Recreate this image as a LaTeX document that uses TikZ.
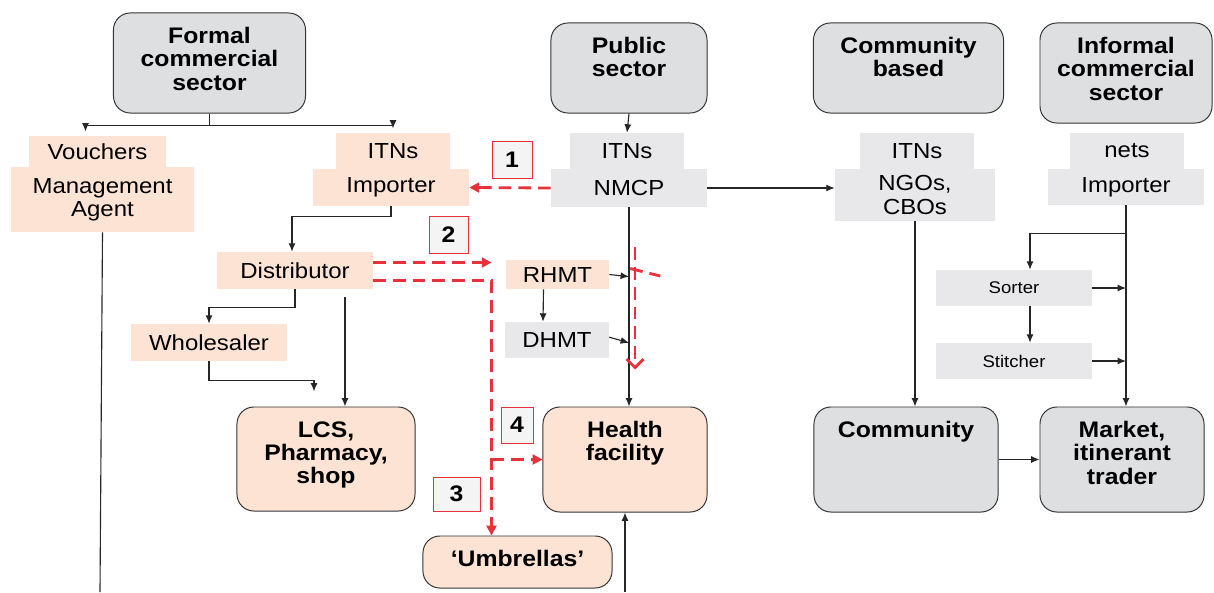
\documentclass[tikz,border=0pt]{standalone}
\usepackage{fontspec}
\setmainfont{Liberation Sans}[FakeStretch=1.1]
\usetikzlibrary{arrows.meta, positioning, calc}

\definecolor{hdgray}{HTML}{DEDFE1}
\definecolor{lblgray}{HTML}{E8E8EA}
\definecolor{peach}{HTML}{FDE3D3}
\definecolor{flowred}{HTML}{E8313A}

\newcommand\lblfont{\fontsize{15.5}{16.5}\selectfont}
\newcommand\headfont{\fontsize{16}{16.5}\selectfont\bfseries}
\newcommand\smallfont{\fontsize{12}{13}\selectfont}

\begin{document}
\begin{tikzpicture}[x=0.025cm, y=-0.025cm,
    sector/.style={draw=black!80, fill=hdgray, rounded corners=12pt, line width=0.7pt},
    outlet/.style={draw=black!80, fill=peach, rounded corners=12pt, line width=0.7pt},
    toptext/.style={label={[anchor=north, yshift=-7pt, font=\headfont, align=center]north:{#1}}},
    tagp/.style={fill=peach, inner sep=0pt, font=\lblfont, align=center},
    tagg/.style={fill=lblgray, inner sep=0pt, font=\lblfont, align=center},
    numbox/.style={draw=flowred, fill=gray!9, line width=0.6pt, inner sep=0pt, font=\headfont},
    flow/.style={-{Latex[length=6pt,width=5pt]}, line width=0.8pt, black!85},
    redflow/.style={-{Triangle[length=7pt,width=7pt]}, line width=2pt, flowred, dash pattern=on 9pt off 5pt},
]
    \useasboundingbox (0,0) rectangle (1214,592);

    % sectors
    \node[sector, minimum width=4.8cm, minimum height=2.5cm, toptext={Formal\\commercial\\sector}] (formal) at (209.5,63) {};
    \node[sector, minimum width=3.9cm, minimum height=2.25cm, toptext={Public\\sector}] (public) at (629,68) {};
    \node[sector, minimum width=4.75cm, minimum height=2.25cm, toptext={Community\\based}] (cbased) at (908.5,68) {};
    \node[sector, minimum width=4.3cm, minimum height=2.5cm, toptext={Informal\\commercial\\sector}] (informal) at (1126,73) {};

    % formal commercial channel
    \node[tagp, minimum width=3.425cm, minimum height=0.775cm] (vouchers) at (97.5,151.5) {Vouchers};
    \node[tagp, minimum width=4.575cm, minimum height=1.625cm] (agent) at (102.5,199.5) {Management\\Agent};
    \node[tagp, minimum width=2.85cm, minimum height=0.9cm] (itnsF) at (393,151) {ITNs};
    \node[tagp, minimum width=3.9cm, minimum height=0.925cm] (importF) at (391,187.5) {Importer};
    \node[tagp, minimum width=3.9cm, minimum height=0.925cm] (distrib) at (295,270.5) {Distributor};
    \node[tagp, minimum width=3.9cm, minimum height=0.925cm] (wholesale) at (209,342.5) {Wholesaler};
    \node[outlet, minimum width=4.45cm, minimum height=2.6cm, toptext={LCS,\\Pharmacy,\\shop}] (lcs) at (326,459) {};
    \node[outlet, minimum width=4.725cm, minimum height=1.3cm, toptext={‘Umbrellas’}] (umbrella) at (517.5,562) {};

    % public channel
    \node[tagg, minimum width=2.85cm, minimum height=0.9cm] (itnsP) at (627,151) {ITNs};
    \node[tagg, minimum width=3.9cm, minimum height=0.95cm] (nmcp) at (629,188) {NMCP};
    \node[tagp, minimum width=2.575cm, minimum height=0.725cm] (rhmt) at (557.5,274.5) {RHMT};
    \node[tagg, minimum width=2.6cm, minimum height=0.9cm] (dhmt) at (557,340) {DHMT};
    \node[outlet, minimum width=4.1cm, minimum height=2.625cm, toptext={Health\\facility}] (health) at (625,459.5) {};

    % community channel
    \node[tagg, minimum width=2.85cm, minimum height=0.9cm] (itnsC) at (917,151) {ITNs};
    \node[tagg, minimum width=4cm, minimum height=1.3cm] (ngos) at (915,195) {NGOs,\\CBOs};
    \node[sector, minimum width=4.6cm, minimum height=2.625cm, toptext={Community}] (community) at (906,459.5) {};

    % informal channel
    \node[tagg, minimum width=2.85cm, minimum height=0.9cm] (nets) at (1127,151) {nets};
    \node[tagg, minimum width=3.9cm, minimum height=0.9cm] (importI) at (1126,187) {Importer};
    \node[tagg, font=\smallfont, minimum width=3.9cm, minimum height=0.9cm] (sorter) at (1014,288) {Sorter};
    \node[tagg, font=\smallfont, minimum width=3.9cm, minimum height=0.9cm] (stitcher) at (1014,361) {Stitcher};
    \node[sector, minimum width=4.1cm, minimum height=2.625cm, toptext={Market,\\itinerant\\trader}] (market) at (1122,459.5) {};

    % black flows
    \draw[line width=0.8pt, black!85] (formal.south) -- ++(0,12) coordinate (fsplit);
    \draw[flow, shorten >=3pt] (fsplit) -| ([shift={(-12,0)}]vouchers.north);
    \draw[flow, shorten >=3pt] (fsplit) -| (itnsF.north);
    \draw[flow] (public.south) -- (itnsP.north);
    \draw[flow] (nmcp.east) -- (nmcp.east -| ngos.west);
    \draw[flow] (nmcp.south) -- (nmcp.south |- health.north);
    \draw[flow] (rhmt.east) -- ([yshift=-1.5pt]rhmt.east -| nmcp.south);
    \draw[flow] ([yshift=2pt]dhmt.east) -- ([yshift=-2pt]dhmt.east -| nmcp.south);
    \draw[flow] ([shift={(-14,0)}]rhmt.south) -- ([shift={(-14,0)}]dhmt.north);
    \draw[flow] (importF.south) -- ++(0,10) -| ([shift={(-3,0)}]distrib.north);
    \draw[flow] (distrib.south) -- ++(0,18) -| (wholesale.north);
    \draw[flow] (wholesale.south) -- ++(0,19) -| ([shift={(-12,-15)}]lcs.north);
    \coordinate (dleg) at ([shift={(50,8)}]distrib.south);
    \draw[flow] (dleg) -- (dleg |- lcs.north);
    \coordinate (vbottom) at (100,592);
    \draw[line width=0.8pt, black!85] (agent.south) -- (vbottom);
    \coordinate (hfin) at (625,592);
    \draw[flow] (hfin) -- (health.south);
    \draw[flow] (ngos.south) -- (ngos.south |- community.north);
    \draw[flow] (importI.south) -- (importI.south |- market.north);
    \draw[flow] ([shift={(0,28)}]importI.south) -| ([shift={(16,0)}]sorter.north);
    \draw[flow] ([shift={(16,0)}]sorter.south) -- ([shift={(16,0)}]stitcher.north);
    \draw[flow] (sorter.east) -- (sorter.east -| importI.south);
    \draw[flow] (stitcher.east) -- (stitcher.east -| importI.south);
    \draw[flow] (community.east) -- (market.west);

    % red flows
    \draw[redflow] (nmcp.west) -- (importF.east);
    \coordinate (dtop) at ([shift={(0,-8)}]distrib.east);
    \draw[redflow, shorten >=10pt] (dtop) -- (dtop -| rhmt.west);
    \coordinate (dlow) at ([shift={(0,10)}]distrib.east);
    \coordinate (ubr) at ([shift={(-26,0)}]umbrella.north);
    \draw[redflow] (dlow) -| (ubr);
    \draw[redflow] (ubr |- health.west) -- (health.west);
    \draw[redflow, -{Straight Barb[length=6pt,width=12pt]}] ([shift={(10,-159)}]health.north) -- ([shift={(10,-37)}]health.north);
    \draw[line width=2pt, flowred, dash pattern=on 9pt off 5pt] ([shift={(21,-6)}]rhmt.east) -- ([shift={(51,1.5)}]rhmt.east);

    % numbered routes
    \node[numbox, minimum width=1cm, minimum height=0.925cm] (n1) at (512,159.5) {1};
    \node[numbox, minimum width=0.975cm, minimum height=0.925cm] (n2) at (448.5,234.5) {2};
    \node[numbox, minimum width=1.175cm, minimum height=0.85cm] (n3) at (456.5,494) {3};
    \node[numbox, minimum width=0.8cm, minimum height=0.9cm] (n4) at (517,425) {4};
\end{tikzpicture}
\end{document}
